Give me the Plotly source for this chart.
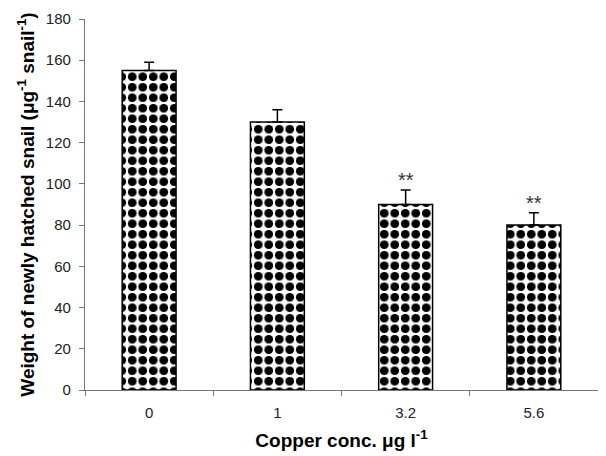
import plotly.graph_objects as go

categories = ["0", "1", "3.2", "5.6"]
weights = [155, 130, 90, 80]
errors = [4, 6, 7, 6]
significance = ["", "", "**", "**"]
y_ticks = [0, 20, 40, 60, 80, 100, 120, 140, 160, 180]

fig = go.Figure()
fig.add_trace(go.Bar(
    x=categories, y=weights, width=0.42,
    marker=dict(
        color="white",
        line=dict(color="black", width=1.5),
        pattern=dict(shape=".", fgcolor="black", bgcolor="white", fgopacity=1,
                     fillmode="replace", size=10.5, solidity=0.55),
    ),
    error_y=dict(type="data", symmetric=False, array=errors, arrayminus=[0]*len(errors),
                 color="black", thickness=1.5, width=5),
    showlegend=False,
))

for i, (v, e, s) in enumerate(zip(weights, errors, significance)):
    if s:
        fig.add_annotation(x=i, y=v + e, text=s, showarrow=False, yanchor="bottom", yshift=-3,
                           font=dict(family="Liberation Sans, Arial", size=20, color="#333"))

axis_font = dict(family="Liberation Sans, Arial", size=15, color="#222")
title_font = dict(family="Liberation Sans, Arial", size=19, color="#000")
# page body has an 8px margin, so the figure is sized/margined to compensate
fig.update_layout(
    width=598, height=448,
    margin=dict(l=77, r=8, t=11, b=66),
    plot_bgcolor="white", paper_bgcolor="white",
    font=axis_font,
    xaxis=dict(
        type="category", tickson="boundaries", ticks="outside", ticklen=5,
        range=[-0.5, 3.5], automargin=False, ticklabelstandoff=9,
        tickcolor="#777", showline=True, linecolor="#777", linewidth=1.2,
        showgrid=False, tickfont=axis_font,
        title=dict(text="<b>Copper conc. μg l<sup>-1</sup></b>", font=title_font, standoff=13),
    ),
    yaxis=dict(
        range=[0, 180], tickvals=y_ticks, ticks="outside", ticklen=5,
        automargin=False, ticklabelstandoff=5,
        tickcolor="#777", showline=True, linecolor="#777", linewidth=1.2,
        showgrid=False, zeroline=False, tickfont=axis_font,
        title=dict(text="<b>Weight of newly hatched snail (μg<sup>-1</sup> snail<sup>-1</sup>)</b>", font=title_font, standoff=6),
    ),
)

fig.write_html("out.html")
